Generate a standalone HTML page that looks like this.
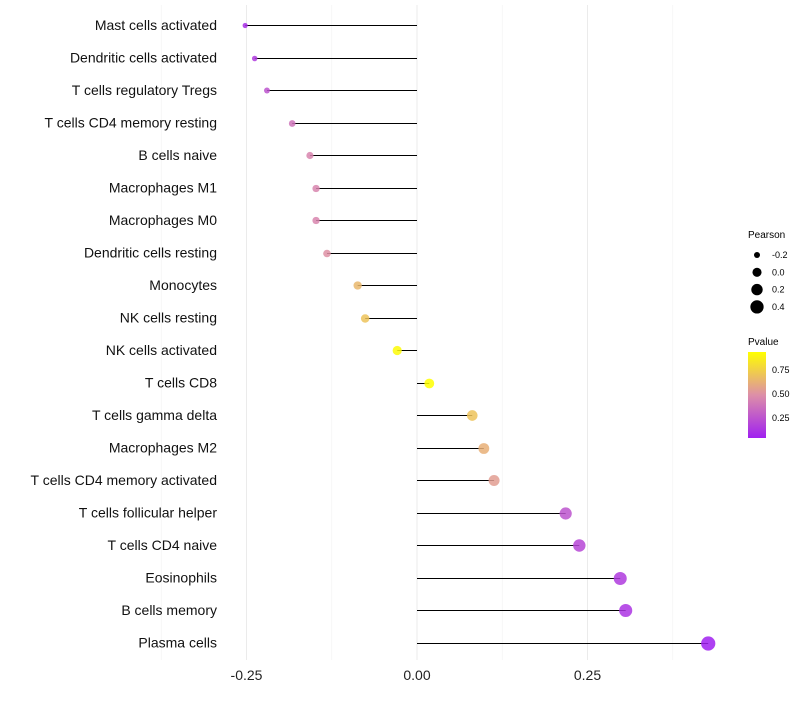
<!DOCTYPE html>
<html><head><meta charset="utf-8"><style>
body{margin:0;background:#fff;font-family:"Liberation Sans",sans-serif;}
</style></head><body>
<svg id="chart" width="800" height="700" xmlns="http://www.w3.org/2000/svg">
<defs><linearGradient id="pg" x1="0" y1="1" x2="0" y2="0">
<stop offset="0" stop-color="#a020f0"/><stop offset="0.5" stop-color="#dd8fa8"/><stop offset="1" stop-color="#ffff00"/></linearGradient></defs>
<g id="grid"></g><g id="marks"></g><g id="labels"></g>
<g font-size="9" fill="#000">
<text x="748" y="238" font-size="10">Pearson</text>
<g id="sizeLegend"></g>
<text x="748" y="345" font-size="10">Pvalue</text>
<rect x="748" y="352" width="18" height="86" fill="url(#pg)"/>
<text x="772" y="373">0.75</text><text x="772" y="397">0.50</text><text x="772" y="421">0.25</text>
</g>
</svg>
<script>
const categories=["Mast cells activated","Dendritic cells activated","T cells regulatory  Tregs","T cells CD4 memory resting","B cells naive","Macrophages M1","Macrophages M0","Dendritic cells resting","Monocytes","NK cells resting","NK cells activated","T cells CD8","T cells gamma delta","Macrophages M2","T cells CD4 memory activated","T cells follicular helper","T cells CD4 naive","Eosinophils","B cells memory","Plasma cells"];
const pearson=[-0.252,-0.238,-0.22,-0.183,-0.157,-0.148,-0.148,-0.132,-0.087,-0.076,-0.029,0.018,0.081,0.098,0.113,0.218,0.238,0.298,0.306,0.427];
const pvalue=[0.1,0.15,0.25,0.38,0.45,0.45,0.45,0.5,0.65,0.7,0.92,0.95,0.7,0.62,0.55,0.25,0.2,0.15,0.12,0.04];
const xTicks=[-0.25,0,0.25];
const xTickLabels=["-0.25","0.00","0.25"];
const sizeLegend=[-0.2,0.0,0.2,0.4];
const NS="http://www.w3.org/2000/svg";
const x=v=>417+v*682;
const y=i=>25+i*32.5;
const r=v=>Math.sqrt(Math.max(3,23+65*v));
function col(p){const t=Math.max(0,Math.min(1,(p-0.04)/0.9));
 const a=[160,32,240],m=[221,143,168],b=[255,255,0];let c;
 if(t<0.5){const s=t/0.5;c=a.map((v,k)=>v+(m[k]-v)*s);}else{const s=(t-0.5)/0.5;c=m.map((v,k)=>v+(b[k]-v)*s);}
 return `rgb(${c.map(Math.round).join(',')})`;}
function el(t,at,p){const e=document.createElementNS(NS,t);for(const k in at)e.setAttribute(k,at[k]);p.appendChild(e);return e;}
const grid=document.getElementById('grid'),marks=document.getElementById('marks'),labels=document.getElementById('labels');
[-0.375,-0.125,0.125,0.375].forEach(v=>{const g=el('line',{x1:x(v),x2:x(v),y1:5,y2:660,stroke:'#f4f4f4','stroke-width':0.8},grid);

});
xTicks.forEach((v,i)=>{const g=el('line',{x1:x(v),x2:x(v),y1:5,y2:660,stroke:'#ebebeb','stroke-width':1},grid);


const t=el('text',{x:x(v),y:680,'text-anchor':'middle','font-size':14,fill:'#222'},labels);t.textContent=xTickLabels[i];

});
categories.forEach((c,i)=>{
 const yy=Math.round(y(i))+0.5;
 const l=el('line',{x1:x(0),x2:x(pearson[i]),y1:yy,y2:yy,stroke:'#000','stroke-width':1},marks);
 
 
 const d=el('circle',{cx:x(pearson[i]),cy:yy,r:r(pearson[i]),fill:col(pvalue[i]),'fill-opacity':0.85},marks);
 
 
 const t=el('text',{x:217,y:y(i)+5,'text-anchor':'end','font-size':14,fill:'#111'},labels);t.textContent=c;
 
 
});
const sl=document.getElementById('sizeLegend');
sizeLegend.forEach((v,i)=>{const yy=255+i*17.3;
 const c=el('circle',{cx:757,cy:yy,r:r(v)*0.95,fill:'#000'},sl);
 
 
 const t=el('text',{x:772,y:yy+3},sl);t.textContent=v.toFixed(1);
 
 });
</script>
</body></html>
